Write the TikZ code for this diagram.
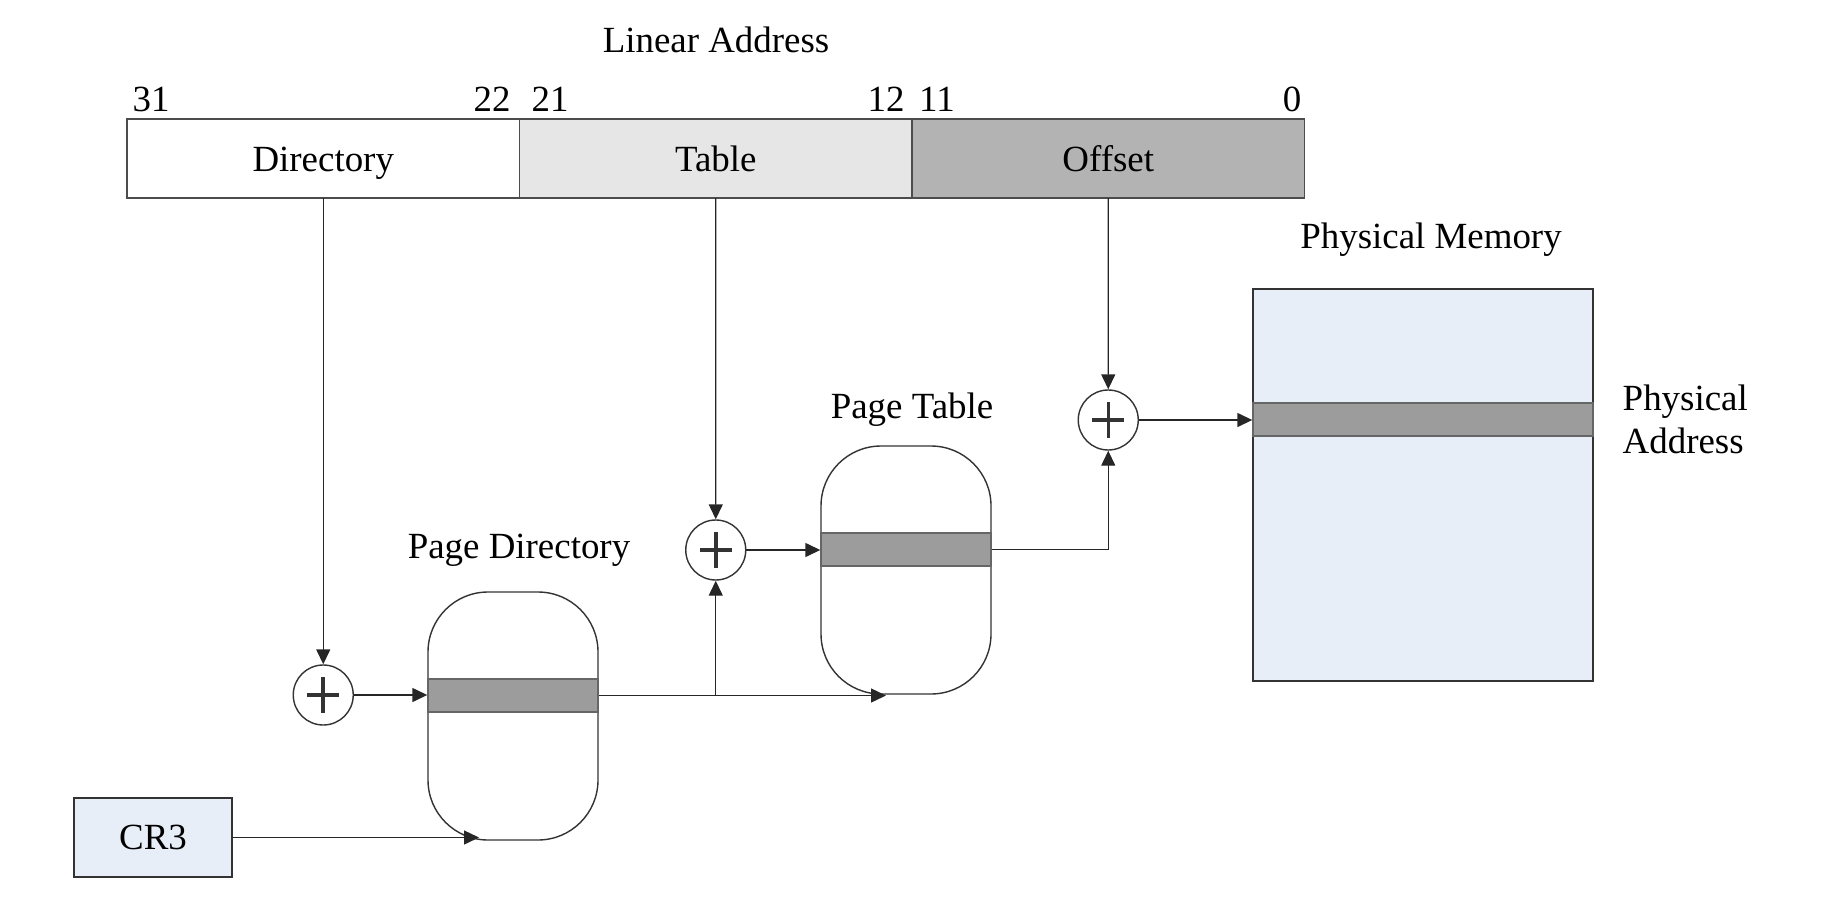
\documentclass[tikz,border=0pt]{standalone}
\usepackage{fontspec}
\setmainfont{Liberation Serif}
\usetikzlibrary{arrows.meta,positioning,calc}
\definecolor{tablegray}{HTML}{E6E6E6}
\definecolor{offsetgray}{HTML}{B3B3B3}
\definecolor{entrygray}{HTML}{9C9C9C}
\definecolor{memblue}{HTML}{E8EEF7}

\begin{document}
\begin{tikzpicture}[
  font=\fontsize{10.5}{12.2}\selectfont,
  field/.style={draw=black!70, minimum width=3.925cm, minimum height=0.79cm, inner sep=0pt, outer sep=0pt,
    text height=0.9em, text depth=0.17em},
  adder/.style={circle, draw=black!80, minimum size=0.6cm, inner sep=0pt,
    path picture={\draw[line width=1pt] (path picture bounding box.center) ++(-0.16,0) -- ++(0.32,0)
      (path picture bounding box.center) ++(0,-0.18) -- ++(0,0.36);}},
  pagebox/.style={draw=black!80, rounded corners=0.6cm, minimum width=1.7cm, minimum height=2.48cm, inner sep=0pt},
  entry/.style={draw=black!60, fill=entrygray, minimum height=0.33cm, inner sep=0pt},
  membox/.style={draw=black!80, fill=memblue, inner sep=0pt},
  arr/.style={-{Triangle[length=0.15cm,width=0.14cm]}, draw=black!85, line width=0.4pt}
]
\useasboundingbox (0,0) rectangle (18.22,-8.98);

%linear address fields
\node[field, fill=white] (dir) at (3.2325,-1.585) {Directory};
\node[field, fill=tablegray, right=0pt of dir] (tab) {Table};
\node[field, fill=offsetgray, right=0pt of tab] (off) {Offset};
\node[anchor=base] (linaddr) at (7.16,-0.53) {Linear Address};

%bit numbers
\foreach \x/\n in {1.51/31, 4.92/22, 5.50/21, 8.86/12, 9.37/11, 12.92/0}{
   \node[anchor=base] (bit\n) at (\x,-1.12) {\n};
}

%adders
\node[adder] (adddir) at (3.2325,-6.95) {};
\node[adder] (addtab) at (7.1575,-5.50) {};
\node[adder] (addoff) at (11.0825,-4.20) {};

%page directory and page table
\node[pagebox] (pd) at (5.13,-7.16) {};
\node[entry, minimum width=1.7cm] (pdent) at (5.13,-6.955) {};
\node[anchor=base] (pdlabel) at (5.19,-5.58) {Page Directory};

\node[pagebox] (pt) at (9.06,-5.70) {};
\node[entry, minimum width=1.7cm] (ptent) at (9.06,-5.495) {};
\node[anchor=base] (ptlabel) at (9.12,-4.18) {Page Table};

%physical memory
\node[membox, minimum width=3.4cm, minimum height=3.92cm] (mem) at (14.23,-4.85) {};
\node[entry, minimum width=3.4cm] (mement) at (14.23,-4.195) {};
\node[anchor=base] (memlabel) at (14.31,-2.48) {Physical Memory};
\node[anchor=north west, inner sep=0pt, align=left] (palabel) at (16.22,-3.84) {Physical\\Address};

%CR3
\node[membox, minimum width=1.58cm, minimum height=0.79cm] (cr3) at (1.53,-8.375) {CR3};

%connectors
\coordinate (pdin) at (4.79,-8.375);
\coordinate (ptin) at (8.86,-6.955);
\draw[arr] (dir.south) -- (adddir.north);
\draw[arr] (tab.south) -- (addtab.north);
\draw[arr] (off.south) -- (addoff.north);
\draw[arr] (adddir.east) -- (adddir -| pdent.west);
\draw[arr] (pdent.east) -- (ptin);
\draw[arr] (addtab |- pdent.east) -- (addtab.south);
\draw[arr] (addtab.east) -- (addtab -| ptent.west);
\draw[arr] (ptent.east) -| (addoff.south);
\draw[arr] (addoff.east) -- (addoff -| mement.west);
\draw[arr] (cr3.east) -- (pdin);
\end{tikzpicture}
\end{document}
